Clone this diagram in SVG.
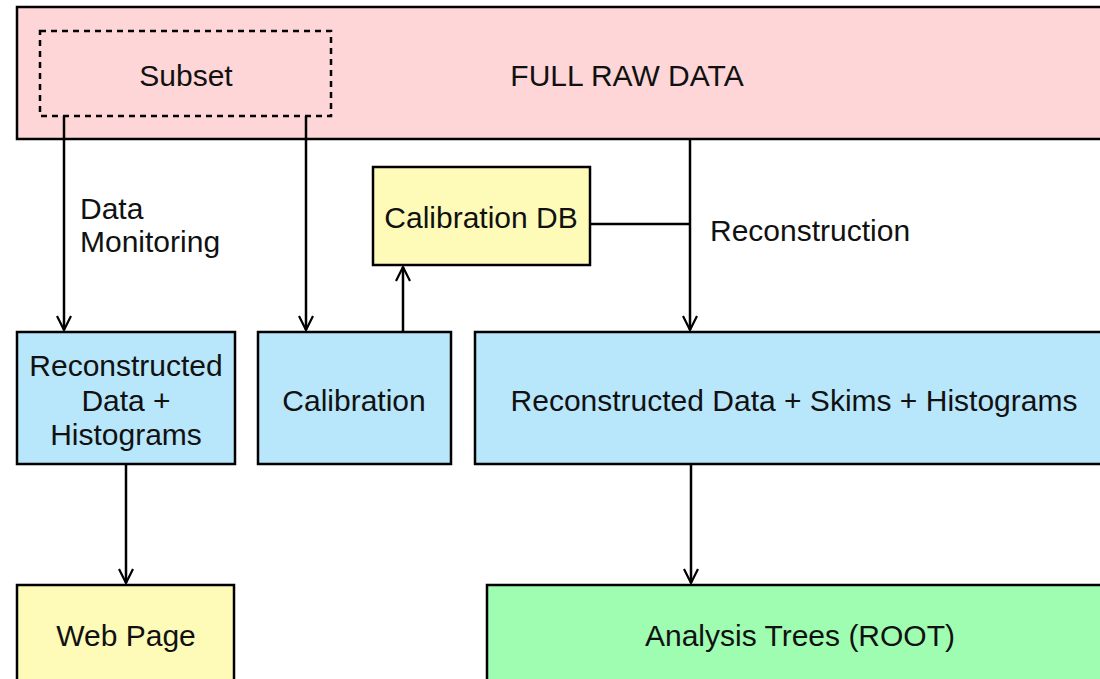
<svg xmlns="http://www.w3.org/2000/svg" width="1100" height="679" viewBox="0 0 1100 679">
<style>
.box{stroke:#000;stroke-width:2.5}
.pink{fill:#ffd6d8}
.blue{fill:#b8e6fb}
.yellow{fill:#fefbb9}
.green{fill:#9ffdb2}
text{font-family:"Liberation Sans",Arial,sans-serif;font-size:30px;fill:#111}
.c{text-anchor:middle}
.conn line,.conn path{stroke:#000;stroke-width:2.5;fill:none}
</style>
<defs>
<marker id="arr" viewBox="0 0 16 16" refX="15" refY="8" markerWidth="16" markerHeight="16" markerUnits="userSpaceOnUse" orient="auto">
<path d="M1,1 L15,8 L1,15" fill="none" stroke="#000" stroke-width="2.2"/>
</marker>
</defs>
<rect width="1100" height="679" fill="#fff"/>
<g id="raw">
<rect class="box pink" x="17" y="7" width="1100" height="132"/>
<text class="c" x="627" y="86">FULL RAW DATA</text>
</g>
<g id="subset">
<rect x="40" y="31" width="291" height="85" fill="none" stroke="#000" stroke-width="2.5" stroke-dasharray="6,5"/>
<text class="c" x="186" y="86">Subset</text>
</g>
<g id="caldb">
<rect class="box yellow" x="373" y="167" width="217" height="98"/>
<text class="c" x="481" y="228">Calibration DB</text>
</g>
<g id="recohist">
<rect class="box blue" x="17" y="332" width="218" height="132"/>
<text class="c" x="126" y="376">Reconstructed</text>
<text class="c" x="126" y="411">Data +</text>
<text class="c" x="126" y="445">Histograms</text>
</g>
<g id="calibration">
<rect class="box blue" x="258" y="332" width="193" height="132"/>
<text class="c" x="354" y="411">Calibration</text>
</g>
<g id="recofull">
<rect class="box blue" x="475" y="332" width="640" height="132"/>
<text class="c" x="794" y="411">Reconstructed Data + Skims + Histograms</text>
</g>
<g id="webpage">
<rect class="box yellow" x="17" y="585" width="217" height="110"/>
<text class="c" x="126" y="646">Web Page</text>
</g>
<g id="analysis">
<rect class="box green" x="487" y="585" width="630" height="110"/>
<text class="c" x="800" y="646">Analysis Trees (ROOT)</text>
</g>
<g class="conn" id="connectors">
<line x1="64" y1="116" x2="64" y2="330" marker-end="url(#arr)"/>
<line x1="306" y1="116" x2="306" y2="330" marker-end="url(#arr)"/>
<line x1="403" y1="332" x2="403" y2="267" marker-end="url(#arr)"/>
<line x1="690" y1="139" x2="690" y2="330" marker-end="url(#arr)"/>
<line x1="590" y1="224" x2="690" y2="224"/>
<line x1="126" y1="464" x2="126" y2="583" marker-end="url(#arr)"/>
<line x1="691" y1="464" x2="691" y2="583" marker-end="url(#arr)"/>
</g>
<g id="labels">
<text x="80" y="219">Data</text>
<text x="80" y="252">Monitoring</text>
<text x="710" y="241">Reconstruction</text>
</g>
</svg>
